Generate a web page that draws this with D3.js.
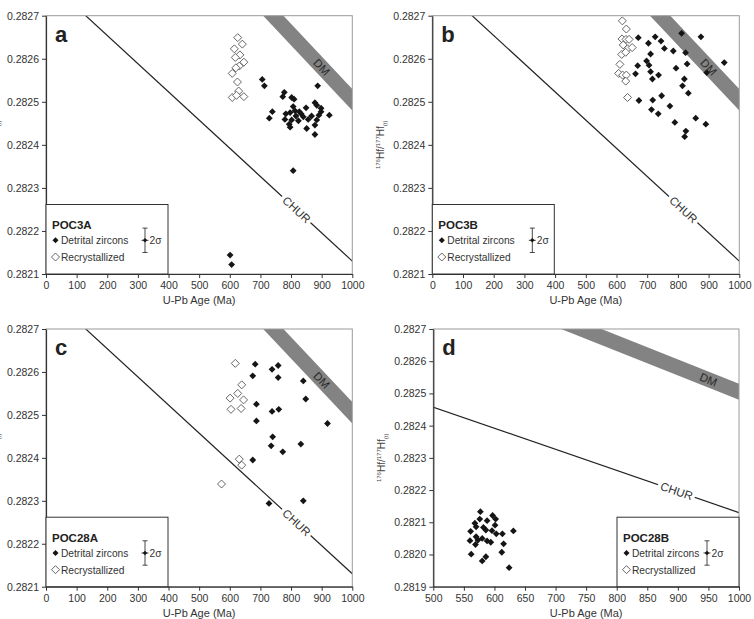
<!DOCTYPE html>
<html>
<head>
<meta charset="utf-8">
<script src="https://cdn.jsdelivr.net/npm/d3@7"></script>
<style>
  body { margin: 0; background: #fff; }
  text { font-family: "Liberation Sans", Arial, sans-serif; }
</style>
</head>
<body>
<svg id="chart" width="754" height="619"></svg>
<script>
// Dados: [idade U-Pb (Ma), 176Hf/177Hf(t)]
const poc3aDetrital = [
  [706, 0.282552], [713, 0.282537], [887, 0.282537], [778, 0.282522], [773, 0.282512],
  [802, 0.282510], [810, 0.282506], [878, 0.282498], [884, 0.282492], [849, 0.282486],
  [807, 0.282489], [898, 0.282485], [739, 0.282477], [813, 0.282479], [827, 0.282477],
  [833, 0.282472], [783, 0.282472], [797, 0.282475], [840, 0.282465], [816, 0.282467],
  [898, 0.282477], [891, 0.282469], [925, 0.282469], [729, 0.282462], [780, 0.282459],
  [802, 0.282458], [824, 0.282456], [856, 0.282459], [867, 0.282467], [884, 0.282458],
  [794, 0.282448], [797, 0.282441], [851, 0.282438], [878, 0.282446], [878, 0.282424],
  [807, 0.282340], [601, 0.282144], [606, 0.282122]
];
const poc3aRecryst = [
  [626, 0.282649], [641, 0.282634], [615, 0.282623], [633, 0.282609], [618, 0.282603],
  [646, 0.282592], [631, 0.282583], [620, 0.282579], [608, 0.282566], [625, 0.282546],
  [629, 0.282525], [608, 0.282510], [646, 0.282512], [622, 0.282515]
];
const poc3bDetrital = [
  [812, 0.282659], [875, 0.282651], [726, 0.282651], [671, 0.282649], [745, 0.282641],
  [704, 0.282636], [756, 0.282624], [785, 0.282618], [825, 0.282614], [711, 0.282611],
  [698, 0.282595], [669, 0.282584], [706, 0.282585], [830, 0.282588], [951, 0.282591],
  [794, 0.282578], [662, 0.282565], [711, 0.282570], [737, 0.282562], [894, 0.282568],
  [717, 0.282553], [821, 0.282553], [815, 0.282537], [834, 0.282520], [673, 0.282503],
  [747, 0.282514], [718, 0.282504], [774, 0.282490], [714, 0.282482], [736, 0.282472],
  [858, 0.282462], [891, 0.282448], [790, 0.282452], [826, 0.282432], [822, 0.282419]
];
const poc3bRecryst = [
  [619, 0.282688], [632, 0.282669], [618, 0.282646], [631, 0.282645], [641, 0.282645],
  [622, 0.282632], [636, 0.282623], [651, 0.282626], [617, 0.282610], [630, 0.282615],
  [611, 0.282587], [607, 0.282566], [620, 0.282562], [632, 0.282562], [630, 0.282548],
  [636, 0.282510]
];
const poc28aDetrital = [
  [683, 0.282618], [738, 0.282606], [758, 0.282615], [675, 0.282591], [758, 0.282587],
  [840, 0.282579], [848, 0.282537], [687, 0.282525], [760, 0.282513], [738, 0.282508],
  [687, 0.282486], [919, 0.282480], [740, 0.282449], [735, 0.282428], [832, 0.282432],
  [773, 0.282414], [675, 0.282395], [840, 0.282300], [728, 0.282294]
];
const poc28aRecryst = [
  [618, 0.282620], [639, 0.282570], [626, 0.282550], [601, 0.282539], [645, 0.282535],
  [604, 0.282513], [637, 0.282515], [631, 0.282397], [639, 0.282383], [573, 0.282339]
];
const poc28bDetrital = [
  [577, 0.282133], [597, 0.282121], [602, 0.282110], [568, 0.282097], [576, 0.282110],
  [588, 0.282105], [601, 0.282091], [570, 0.282086], [582, 0.282084], [586, 0.282076],
  [596, 0.282074], [561, 0.282072], [613, 0.282064], [631, 0.282073], [570, 0.282055],
  [580, 0.282050], [573, 0.282045], [560, 0.282043], [588, 0.282042], [594, 0.282038],
  [569, 0.282031], [603, 0.282064], [615, 0.282033], [612, 0.282007], [562, 0.282001],
  [586, 0.281993], [580, 0.281980], [624, 0.281959]
];
const poc28bRecryst = [];

// Curvas de referência
const churLine = [[0, 0.282785], [1000, 0.282130]];
const dmUpper = [[500, 0.282908], [1000, 0.282530]];
const dmLower = [[500, 0.282858], [1000, 0.282480]];

// Ticks
const xTicksFull = [0, 100, 200, 300, 400, 500, 600, 700, 800, 900, 1000];
const xTicksD = [500, 550, 600, 650, 700, 750, 800, 850, 900, 950, 1000];
const yTicksABC = [0.2821, 0.2822, 0.2823, 0.2824, 0.2825, 0.2826, 0.2827];
const yTicksD = [0.2819, 0.2820, 0.2821, 0.2822, 0.2823, 0.2824, 0.2825, 0.2826, 0.2827];

const panels = [
  { letter: "a", sample: "POC3A", detrital: poc3aDetrital, recryst: poc3aRecryst,
    xTicks: xTicksFull, yTicks: yTicksABC, box: [46, 352.3, 15.7, 274],
    legendRight: false, errDx: 99, churAge: 818, dmAge: 900 },
  { letter: "b", sample: "POC3B", detrital: poc3bDetrital, recryst: poc3bRecryst,
    xTicks: xTicksFull, yTicks: yTicksABC, box: [432.3, 739.3, 15.7, 274],
    legendRight: false, errDx: 100, churAge: 818, dmAge: 900 },
  { letter: "c", sample: "POC28A", detrital: poc28aDetrital, recryst: poc28aRecryst,
    xTicks: xTicksFull, yTicks: yTicksABC, box: [46, 352.3, 329, 586.7],
    legendRight: false, errDx: 99, churAge: 818, dmAge: 900 },
  { letter: "d", sample: "POC28B", detrital: poc28bDetrital, recryst: poc28bRecryst,
    xTicks: xTicksD, yTicks: yTicksD, box: [433.3, 739, 329, 586.7],
    legendRight: true, errDx: 90, churAge: 898, dmAge: 950 }
];

const diamond = r => `M0,${-r}L${r},0L0,${r}L${-r},0Z`;
const svg = d3.select("#chart");

panels.forEach((p, i) => {
  const [left, right, top, bottom] = p.box;
  const x = d3.scaleLinear().domain(d3.extent(p.xTicks)).range([left, right]);
  const y = d3.scaleLinear().domain(d3.extent(p.yTicks)).range([bottom, top]);
  const g = svg.append("g");

  const clipId = "clip" + i;
  svg.append("clipPath").attr("id", clipId)
    .append("rect").attr("x", left).attr("y", top)
    .attr("width", right - left).attr("height", bottom - top);

  const plot = g.append("g").attr("clip-path", `url(#${clipId})`);

  // Faixa DM
  const band = dmUpper.concat(dmLower.slice().reverse());
  plot.append("path")
    .attr("d", d3.line().x(d => x(d[0])).y(d => y(d[1]))(band) + "Z")
    .attr("fill", "#838383");

  // Linha CHUR
  plot.append("path")
    .attr("d", d3.line().x(d => x(d[0])).y(d => y(d[1]))(churLine))
    .attr("stroke", "#222").attr("stroke-width", 1.2).attr("fill", "none");

  const slopeAt = (line) => {
    const dx = x(line[1][0]) - x(line[0][0]);
    const dy = y(line[1][1]) - y(line[0][1]);
    return Math.atan2(dy, dx) * 180 / Math.PI;
  };
  const interp = (line, t) => line[0][1] + (line[1][1] - line[0][1]) * (t - line[0][0]) / (line[1][0] - line[0][0]);

  // Rótulo CHUR
  const cx = x(p.churAge), cy = y(interp(churLine, p.churAge));
  g.append("text")
    .attr("transform", `translate(${cx},${cy}) rotate(${slopeAt(churLine)})`)
    .attr("text-anchor", "middle").attr("dy", "0.35em")
    .attr("font-size", 11.5).attr("fill", "#333")
    .attr("stroke", "#fff").attr("stroke-width", 7).attr("paint-order", "stroke")
    .text("CHUR");

  // Rótulo DM
  const dmVal = (interp(dmUpper, p.dmAge) + interp(dmLower, p.dmAge)) / 2;
  g.append("text")
    .attr("transform", `translate(${x(p.dmAge)},${y(dmVal)}) rotate(${slopeAt(dmUpper)})`)
    .attr("text-anchor", "middle").attr("dy", "0.35em")
    .attr("font-size", 11.5).attr("fill", "#2a2a2a")
    .text("DM");

  // Pontos
  plot.selectAll(".rc").data(p.recryst).join("path")
    .attr("d", diamond(4))
    .attr("transform", d => `translate(${x(d[0])},${y(d[1])})`)
    .attr("fill", "#fff").attr("stroke", "#555").attr("stroke-width", 0.9);
  plot.selectAll(".dz").data(p.detrital).join("path")
    .attr("d", diamond(3.4))
    .attr("transform", d => `translate(${x(d[0])},${y(d[1])})`)
    .attr("fill", "#151515");

  // Moldura
  g.append("rect").attr("x", left).attr("y", top)
    .attr("width", right - left).attr("height", bottom - top)
    .attr("fill", "none").attr("stroke", "#9a9a9a").attr("stroke-width", 1);

  // Eixos
  const xAxis = g.append("g").attr("transform", `translate(0,${bottom})`)
    .call(d3.axisBottom(x).tickValues(p.xTicks).tickSize(4).tickSizeOuter(0).tickFormat(d3.format("d")));
  const yAxis = g.append("g").attr("transform", `translate(${left},0)`)
    .call(d3.axisLeft(y).tickValues(p.yTicks).tickSize(4).tickSizeOuter(0).tickFormat(d3.format(".4f")));
  [xAxis, yAxis].forEach(ax => {
    ax.select(".domain").attr("stroke", "#333").attr("stroke-width", 1.2);
    ax.selectAll(".tick line").attr("stroke", "#333");
    ax.selectAll(".tick text").attr("fill", "#333").attr("font-size", 10.5)
      .attr("font-family", "Liberation Sans, Arial, sans-serif");
  });
  xAxis.selectAll(".tick text").attr("dy", "0.75em");

  // Títulos dos eixos
  g.append("text")
    .attr("x", (left + right) / 2).attr("y", bottom + 30)
    .attr("text-anchor", "middle").attr("font-size", 11).attr("fill", "#333")
    .text("U-Pb Age (Ma)");
  const yt = g.append("text")
    .attr("transform", `translate(${left - 48},${(top + bottom) / 2}) rotate(-90)`)
    .attr("text-anchor", "middle").attr("font-size", 10).attr("fill", "#444");
  yt.append("tspan").attr("font-size", 6).attr("dy", -4).text("176");
  yt.append("tspan").attr("dy", 4).text("Hf/");
  yt.append("tspan").attr("font-size", 6).attr("dy", -4).text("177");
  yt.append("tspan").attr("dy", 4).text("Hf");
  yt.append("tspan").attr("font-size", 6).attr("dy", 3).text("(t)");

  // Letra do painel
  g.append("text").attr("x", left + 9).attr("y", top + 26)
    .attr("font-size", 22).attr("font-weight", "bold").attr("fill", "#222")
    .text(p.letter);

  // Legenda
  const bw = 122, bh = 69.5;
  const bx = p.legendRight ? right - bw : left;
  const by = bottom - bh;
  const lg = g.append("g");
  lg.append("rect").attr("x", bx).attr("y", by).attr("width", bw).attr("height", bh)
    .attr("fill", "#fff").attr("stroke", "#333").attr("stroke-width", 1);
  lg.append("text").attr("x", bx + 6).attr("y", by + 24.5)
    .attr("font-size", 11.5).attr("font-weight", "bold").attr("fill", "#222")
    .text(p.sample);
  lg.append("path").attr("d", diamond(3)).attr("fill", "#151515")
    .attr("transform", `translate(${bx + 9.5},${by + 35.8})`);
  lg.append("text").attr("x", bx + 15).attr("y", by + 39.6)
    .attr("font-size", 10.2).attr("fill", "#333").text("Detrital zircons");
  lg.append("path").attr("d", diamond(4)).attr("fill", "#fff")
    .attr("stroke", "#555").attr("stroke-width", 0.9)
    .attr("transform", `translate(${bx + 9.5},${by + 52.5})`);
  lg.append("text").attr("x", bx + 15).attr("y", by + 56.5)
    .attr("font-size", 10.2).attr("fill", "#333").text("Recrystallized");

  // Barra de erro 2σ
  const ex = bx + p.errDx, ey = by + 35.8;
  lg.append("path")
    .attr("d", `M${ex},${by + 23.6}V${by + 48}M${ex - 2.5},${by + 23.6}H${ex + 2.5}M${ex - 2.5},${by + 48}H${ex + 2.5}M${ex - 3.5},${ey}H${ex + 3.5}`)
    .attr("stroke", "#333").attr("stroke-width", 0.9).attr("fill", "none");
  lg.append("path").attr("d", diamond(2.3)).attr("fill", "#151515")
    .attr("transform", `translate(${ex},${ey})`);
  lg.append("text").attr("x", ex + 4.5).attr("y", by + 39.6)
    .attr("font-size", 10.2).attr("fill", "#333").text("2σ");
});
</script>
</body>
</html>
